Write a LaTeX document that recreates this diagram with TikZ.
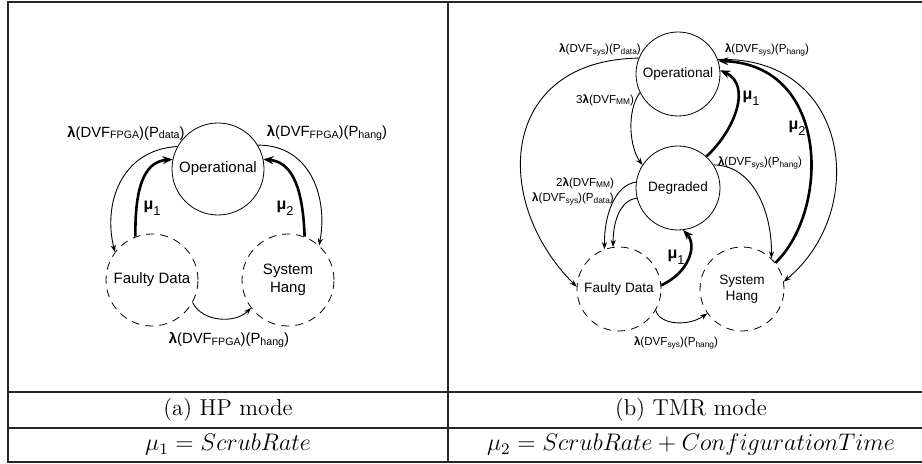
\documentclass[tikz,border=0pt]{standalone}
\usepackage{fontspec}
\usepackage{tikz}
\usetikzlibrary{arrows.meta}
\newfontfamily\diagfont{Liberation Sans}

\newcommand{\lam}{\textbf{λ}}
\newcommand{\sm}[1]{\raisebox{-0.25ex}{\scalebox{0.72}{#1}}}
\newcommand{\mulab}[1]{\textbf{μ}\raisebox{-0.7ex}{\scalebox{0.8}{#1}}}

\tikzset{
  hpstate/.style={circle, draw, inner sep=0pt, align=center, minimum size=46pt,
    font=\diagfont\fontsize{7.5}{9}\selectfont},
  tmrstate/.style={circle, draw, inner sep=0pt, align=center, minimum size=42pt,
    font=\diagfont\fontsize{6.8}{8.3}\selectfont},
  failed/.style={dash pattern=on 4pt off 3pt},
  rate/.style={line width=0.45pt, -{Stealth[length=3.6pt,width=2.6pt]}},
  repair/.style={line width=1.3pt, -{Stealth[length=5pt,width=4pt]}},
  hplab/.style={inner sep=0pt, font=\diagfont\fontsize{7.4}{9}\selectfont},
  tmrlab/.style={inner sep=0pt, font=\diagfont\fontsize{5.8}{7}\selectfont},
  mulabel/.style={inner sep=0pt, font=\diagfont\fontsize{8}{9}\selectfont},
  caption/.style={inner sep=0pt, font=\fontsize{11.5}{13}\selectfont}
}

\begin{document}
\begin{tikzpicture}[x=0.5pt, y=-0.5pt]
\useasboundingbox (0,0) rectangle (922,464);

% table frame
\draw[line width=0.6pt, black!85] (922,2) -- (8,2) -- (8,462) -- (922,462);
\draw[line width=0.6pt, black!85] (448,2) -- (448,462);
\draw[line width=0.6pt, black!85] (8,392) -- (922,392);
\draw[line width=0.6pt, black!85] (8,428) -- (922,428);

\node[caption] (cap_hp) at (228,410) {(a) HP mode};
\node[caption] (cap_tmr) at (691,410) {(b) TMR mode};
\node[caption] (eq_hp) at (228,445) {$\mu_1 = ScrubRate$};
\node[caption] (eq_tmr) at (691,445) {$\mu_2 = ScrubRate + ConfigurationTime$};

% HP mode
\node[hpstate] (op) at (218,169) {Operational};
\node[hpstate, failed] (fd) at (152,280) {Faulty Data};
\node[hpstate, failed] (sh) at (288,280) {System\\Hang};

\draw[rate] (op.151) .. controls (120,150) and (103,205) .. (fd.143);
\node[hplab] (op_fd) at (126,133) {\lam(DVF\sm{FPGA})(P\sm{data})};

\draw[rate] (op.31) .. controls (312,145) and (328,200) .. (sh.48);
\node[hplab] (op_sh) at (327,133) {\lam(DVF\sm{FPGA})(P\sm{hang})};

\draw[repair] (fd.111) .. controls (135,192) and (142,162) .. (op.168);
\node[mulabel] (mu_fd) at (152,208) {\mulab{1}};

\draw[repair] (sh.69) .. controls (303,192) and (294,162) .. (op.12);
\node[mulabel] (mu_sh) at (285,208) {\mulab{2}};

\draw[rate] (fd.-29) .. controls (202,322) and (235,324) .. (sh.217);
\node[hplab] (fd_sh) at (229,340) {\lam(DVF\sm{FPGA})(P\sm{hang})};

% TMR mode
\node[tmrstate] (op2) at (678,74) {Operational};
\node[tmrstate] (dg) at (678,188) {Degraded};
\node[tmrstate, failed] (fd2) at (619,289) {Faulty Data};
\node[tmrstate, failed] (sh2) at (742,289) {System\\Hang};

\draw[rate] (op2.158) .. controls (500,60) and (490,200) .. (fd2.177);
\node[tmrlab] (op2_fd2) at (600,50) {\lam(DVF\sm{sys})(P\sm{data})};

\draw[rate] (op2.20) .. controls (850,55) and (870,210) .. (sh2.10);
\node[tmrlab] (op2_sh2) at (767,50) {\lam(DVF\sm{sys})(P\sm{hang})};

\draw[rate] (op2.206) .. controls (626,112) and (630,148) .. (dg.147);
\node[tmrlab] (op2_dg) at (605,100) {3\lam(DVF\sm{MM})};

\draw[repair] (dg.48) .. controls (735,130) and (752,85) .. (op2.5);
\node[mulabel] (mu_dg) at (751,98) {\mulab{1}};

\draw[repair] (sh2.38) .. controls (830,210) and (830,65) .. (op2.18);
\node[mulabel] (mu_sh2) at (797,128) {\mulab{2}};

\draw[rate] (dg.33) .. controls (752,165) and (772,210) .. (sh2.46);
\node[tmrlab] (dg_sh2) at (760,163) {\lam(DVF\sm{sys})(P\sm{hang})};

\draw[rate] (dg.172) .. controls (615,185) and (604,215) .. (fd2.110);
\draw[rate] (dg.194) .. controls (620,200) and (613,222) .. (fd2.98);
\node[tmrlab] (dg_fd2_a) at (585,183) {2\lam(DVF\sm{MM})};
\node[tmrlab] (dg_fd2_b) at (573,199) {\lam(DVF\sm{sys})(P\sm{data})};

\draw[repair] (fd2.5) .. controls (690,272) and (697,245) .. (dg.277);
\node[mulabel] (mu_fd2) at (676,257) {\mulab{1}};

\draw[rate] (fd2.-30) .. controls (660,326) and (690,326) .. (sh2.215);
\node[tmrlab] (fd2_sh2) at (676,343) {\lam(DVF\sm{sys})(P\sm{hang})};
\end{tikzpicture}
\end{document}
